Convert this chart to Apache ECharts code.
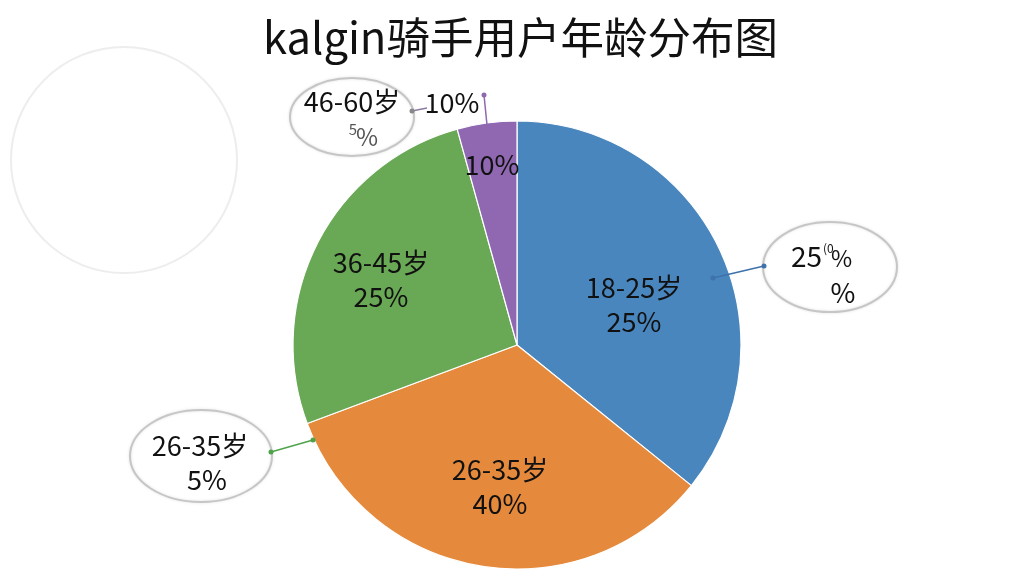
<!DOCTYPE html>
<html><head><meta charset="utf-8">
<script src="https://cdn.jsdelivr.net/npm/echarts@6/dist/echarts.min.js"></script>
<style>html,body{margin:0;padding:0;background:#fff}#c{width:1024px;height:576px}</style>
</head><body><div id="c"></div>
<script>
// Categories and slice values (slice sizes as drawn in the reference)
const categories = ['18-25岁', '26-35岁', '36-45岁', '46-60岁'];
const sliceValues = [35.8, 33.5, 26.4, 4.3];
// Percent text printed on each slice in the reference
const printedPercents = ['25%', '40%', '25%', '10%'];

const sliceColors = ['#4a86be', '#e58a3c', '#69a955', '#8f68b1'];
const innerLabelPos = [[634, 305], [500, 487], [381, 280], [492, 165]];
const FONT = '"Noto Sans CJK SC", "Noto Sans", sans-serif';

const chart = echarts.init(document.getElementById('c'));

function txt(x, y, s, size, color, align) {
  return { type: 'text', z: 100, style: { text: s, x: x, y: y, fill: color || '#111',
    fontSize: size, fontFamily: FONT, align: align || 'center', verticalAlign: 'middle' } };
}
function ell(cx, cy, rx, ry) {
  return { type: 'ellipse', z: 90, shape: { cx: cx, cy: cy, rx: rx, ry: ry },
    style: { fill: 'rgba(255,255,255,0)', stroke: '#c6c6c6', lineWidth: 2,
      shadowBlur: 3, shadowColor: 'rgba(0,0,0,0.12)' } };
}
function seg(x1, y1, x2, y2, color) {
  return { type: 'line', z: 95, shape: { x1: x1, y1: y1, x2: x2, y2: y2 },
    style: { stroke: color, lineWidth: 1.5 } };
}
function dot(x, y, color) {
  return { type: 'circle', z: 96, shape: { cx: x, cy: y, r: 2.5 }, style: { fill: color } };
}

const option = {
  backgroundColor: '#ffffff',
  title: {
    text: 'kalgin骑手用户年龄分布图',
    left: 258, top: 11,
    textStyle: { fontFamily: FONT, fontSize: 43.5, fontWeight: 'normal', color: '#111' }
  },
  color: sliceColors,
  series: [{
    type: 'pie',
    center: [517, 345],
    radius: 224,
    startAngle: 90,
    clockwise: true,
    animation: false,
    itemStyle: { borderColor: '#ffffff', borderWidth: 1.2 },
    label: {
      show: true,
      position: 'inside',
      fontFamily: FONT,
      fontSize: 27,
      lineHeight: 34,
      color: '#111',
      align: 'center',
      verticalAlign: 'middle',
      formatter: function (p) {
        return p.dataIndex === 3 ? printedPercents[p.dataIndex]
          : p.name + '\n' + printedPercents[p.dataIndex];
      }
    },
    labelLayout: function (p) {
      const pos = innerLabelPos[p.dataIndex];
      return { x: pos[0], y: pos[1], align: 'center', verticalAlign: 'middle' };
    },
    labelLine: { show: false },
    data: categories.map(function (c, i) { return { name: c, value: sliceValues[i] }; })
  }],
  graphic: [
    // faint empty circle at the left
    { type: 'circle', z: 1, shape: { cx: 124, cy: 160, r: 113 },
      style: { fill: 'none', stroke: '#ededed', lineWidth: 2 } },
    // top-left callout
    ell(352, 117, 62, 39),
    txt(352, 102, '46-60岁', 27),
    txt(353, 129, '5', 15, '#555'),
    txt(367, 137, '%', 24, '#555'),
    seg(412, 111, 427, 108, '#8a7aa0'),
    dot(412, 111, '#888'),
    txt(452, 103, '10%', 27),
    seg(484, 95, 487, 125, '#8f68b1'),
    dot(484, 95, '#8f68b1'),
    // right callout
    ell(830, 267, 67, 45),
    txt(822, 256, '25', 28, '#111', 'right'),
    txt(823, 248, '(0', 12, '#111', 'left'),
    txt(831, 258, '%', 23, '#111', 'left'),
    txt(843, 293, '%', 27),
    seg(713, 278, 764, 266, '#3d72aa'),
    dot(713, 278, '#3d72aa'),
    dot(764, 266, '#3d72aa'),
    // left callout
    ell(201, 456, 71, 46),
    txt(200, 446, '26-35岁', 27),
    txt(207, 480, '5%', 27),
    seg(271, 452, 313, 440, '#4ea24a'),
    dot(271, 452, '#4ea24a'),
    dot(313, 440, '#4ea24a')
  ]
};
chart.setOption(option);
</script>
</body></html>
